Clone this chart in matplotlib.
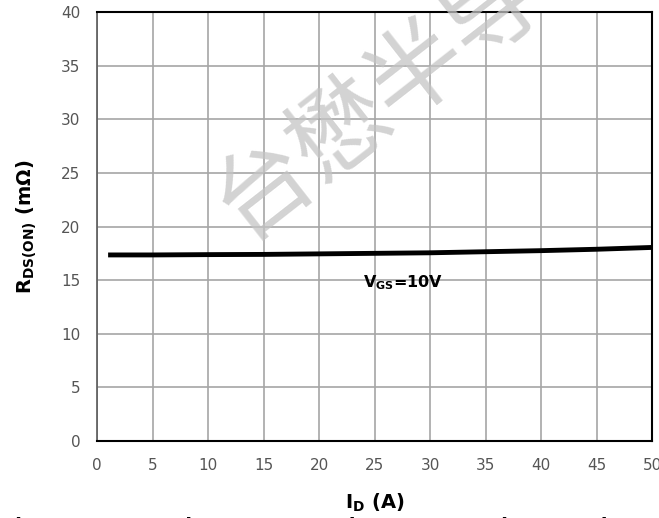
import matplotlib.pyplot as plt
from matplotlib import font_manager

# current (A) vs on-resistance (mOhm) at VGS = 10V
i_d = [1, 5, 10, 15, 20, 25, 30, 35, 40, 45, 50]
r_ds_on = [17.35, 17.35, 17.38, 17.4, 17.45, 17.5, 17.55, 17.65, 17.75, 17.88, 18.05]

x_ticks = [0, 5, 10, 15, 20, 25, 30, 35, 40, 45, 50]
y_ticks = [0, 5, 10, 15, 20, 25, 30, 35, 40]

names = {f.name for f in font_manager.fontManager.ttflist}
narrow = 'Liberation Sans Narrow' if 'Liberation Sans Narrow' in names else 'DejaVu Sans'
plt.rcParams['font.family'] = [narrow, 'Noto Sans CJK SC', 'DejaVu Sans']

fig = plt.figure(figsize=(6.59, 5.18), dpi=100)
ax = fig.add_axes([0.1472, 0.1486, 0.8422, 0.8282])

ax.plot(i_d, r_ds_on, color='black', linewidth=3.5, solid_capstyle='butt', zorder=3)

ax.set_xlim(0, 50)
ax.set_ylim(0, 40)
ax.set_xticks(x_ticks)
ax.set_yticks(y_ticks)
ax.grid(True, color='#a6a6a6', linewidth=1.2)
ax.tick_params(length=0, pad=12, labelsize=11, labelcolor='#555555')
for side in ['top', 'right', 'bottom']:
    ax.spines[side].set_color('black')
    ax.spines[side].set_linewidth(1.5)
ax.spines['left'].set_color('#595959')
ax.spines['left'].set_linewidth(1.2)

ax.set_xlabel('I$_\\mathbf{D}$ (A)', fontsize=14, fontweight='bold', labelpad=14)
ax.set_ylabel('R$_\\mathbf{DS(ON)}$ (m\u03a9)', fontsize=14, fontweight='bold', labelpad=16)

ax.text(24, 14.8, 'V$_\\mathbf{GS}$=10V', fontsize=11.5, fontweight='bold', ha='left', va='center')

# watermark
fig.text(0.575, 0.81, '台懋半导', fontsize=70, color='#c4c4c4', alpha=0.75,
         rotation=38, ha='center', va='center', family=['Noto Sans CJK SC'], zorder=10)

# caption, mostly cut off at the bottom edge
fig.text(0.003, -0.016, 'Figure 9. On-Resistance vs. Drain Current and Gate Voltage',
         fontsize=14, fontweight='bold', ha='left', va='center')

fig.savefig('out.png', dpi=100)
